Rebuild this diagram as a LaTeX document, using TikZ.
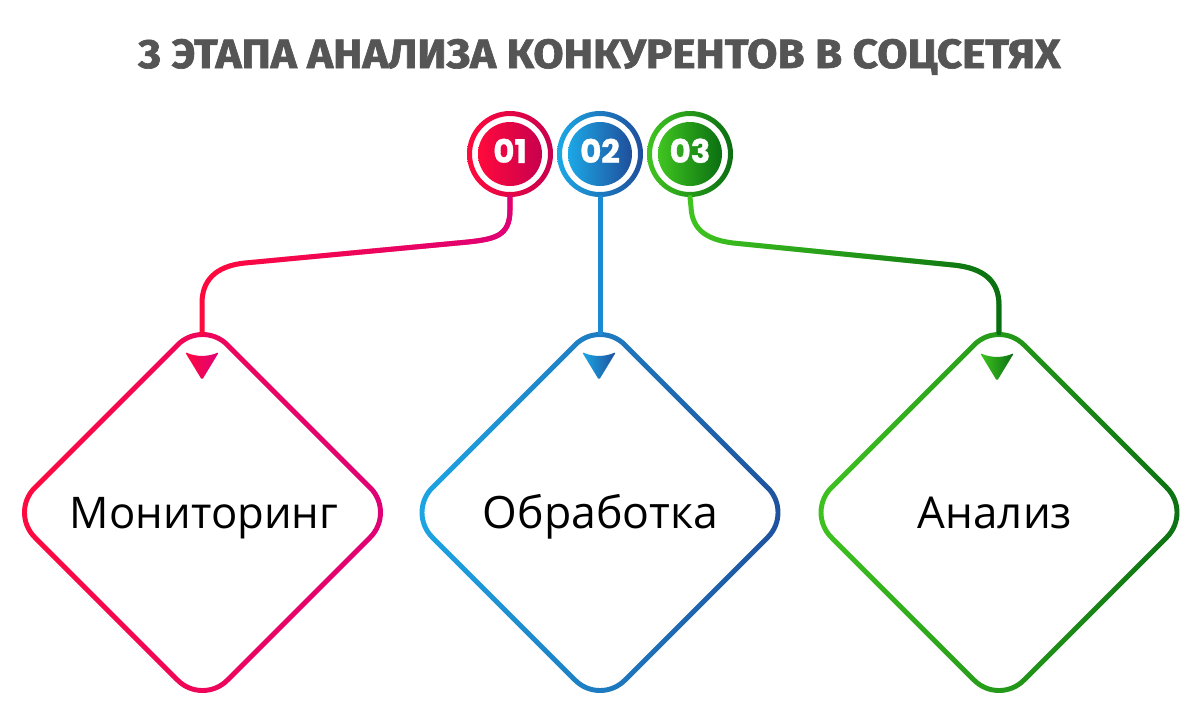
\documentclass[tikz,border=0pt]{standalone}
\usepackage{fontspec}
\setmainfont{Open Sans}
\newfontfamily\titlefont{Fira Sans}[BoldFeatures={FakeBold=1.6}]
\newfontfamily\numfont{Poppins}[BoldFeatures={FakeBold=1.2}]
\usetikzlibrary{fadings}
\definecolor{rA}{HTML}{FF0A3C}
\definecolor{rB}{HTML}{DE0078}
\definecolor{rC}{HTML}{C8004F}
\definecolor{bA}{HTML}{1CA8E6}
\definecolor{bB}{HTML}{1F4E9B}
\definecolor{bC}{HTML}{1B8AD3}
\definecolor{gA}{HTML}{40C520}
\definecolor{gB}{HTML}{0A6E12}
\definecolor{ttl}{HTML}{555555}
\tikzset{
  conn/.style={line width=0.125cm, line cap=round},
  numnode/.style={circle, inner sep=0pt, minimum size=2.15cm, text=white,
    font=\numfont\bfseries\fontsize{23}{23}\selectfont},
  numtext/.style={inner sep=0pt, text=white, yshift=0.08cm,
    font=\numfont\bfseries\fontsize{23}{23}\selectfont},
  lbl/.style={anchor=base, inner sep=0pt, text=black},
}
\newcommand\RingDisc[3]{%
  \shade[left color=#2, right color=#3, even odd rule] #1 circle (43) #1 circle (38);
  \shade[left color=#2, right color=#3] #1 circle (32);
}
\newcommand\DiamondRing[3]{%
  \fill[white, shift={#1}, rounded corners=0.8125cm] (94.5,-94.5) -- (189,0) -- (0,189) -- (-189,0) -- (0,-189) -- cycle;
  \shade[shift={#1}, left color=#2, right color=#3, even odd rule]
    [rounded corners=0.9375cm] (98,-98) -- (196,0) -- (0,196) -- (-196,0) -- (0,-196) -- cycle
    [rounded corners=0.8125cm] (94.5,-94.5) -- (189,0) -- (0,189) -- (-189,0) -- (0,-189) -- cycle;
}
\newcommand\TriMark[3]{%
  \shade[shift={#1}, left color=#2, right color=#3, rounded corners=0.04cm]
    (-17,0) .. controls (-6,5) and (6,5) .. (17,0) -- (0,28) -- cycle;
}
\begin{document}
\begin{tikzpicture}[x=0.025cm, y=-0.025cm]
\useasboundingbox (0,0) rectangle (1200,726);
\fill[white] (0,0) rectangle (1200,726);

% title
\node[anchor=base west, inner sep=0pt, text=ttl] (title) at (138,68)
  {\resizebox{23.05cm}{0.725cm}{\titlefont\bfseries 3 ЭТАПА АНАЛИЗА КОНКУРЕНТОВ В СОЦСЕТЯХ}};

% diamonds
\coordinate (d1) at (202.5,512.5);
\coordinate (d2) at (600,512.5);
\coordinate (d3) at (999,512.5);
\DiamondRing{(d1)}{rA}{rB}
\DiamondRing{(d2)}{bA}{bB}
\DiamondRing{(d3)}{gA}{gB}
\coordinate (d1top) at (202,333);
\coordinate (d2top) at (600,333);
\coordinate (d3top) at (999,333);

% markers
\TriMark{(202,352)}{rA}{rB}
\TriMark{(599,352)}{bA}{bB}
\TriMark{(997,353)}{gA}{gB}

% labels
\node[lbl] (t1) at (204,528) {\resizebox{6.7cm}{!}{Мониторинг}};
\node[lbl] (t2) at (600.5,528) {\resizebox{5.875cm}{!}{Обработка}};
\node[lbl] (t3) at (995,528) {\resizebox{3.85cm}{!}{Анализ}};

% number circles
\coordinate (p1) at (510,154);
\coordinate (p2) at (600,154);
\coordinate (p3) at (690,154);
\RingDisc{(p1)}{rA}{rC}
\RingDisc{(p2)}{bA}{bB}
\RingDisc{(p3)}{gA}{gB}
\node[numnode] (c1) at (p1) {};
\node[numnode] (c2) at (p2) {};
\node[numnode] (c3) at (p3) {};
\node[numtext] (n1) at (c1) {01};
\node[numtext] (n2) at (c2) {02};
\node[numtext] (n3) at (c3) {03};

% connectors
\draw[conn, rA, postaction={draw, rB, path fading=west}]
  (c1.south) -- (510,210) .. controls (510,236) and (495,239) .. (468,242)
  -- (245,263) .. controls (214,266) and (202,282) .. (202,303) -- (d1top);
\draw[conn, bC] (c2.south) -- (d2top);
\draw[conn, gA, postaction={draw, gB, path fading=west}]
  (c3.south) -- (691,207) .. controls (692,232) and (710,240) .. (733,243)
  -- (953,265) .. controls (985,268) and (999,282) .. (999,305) -- (d3top);
\end{tikzpicture}
\end{document}
